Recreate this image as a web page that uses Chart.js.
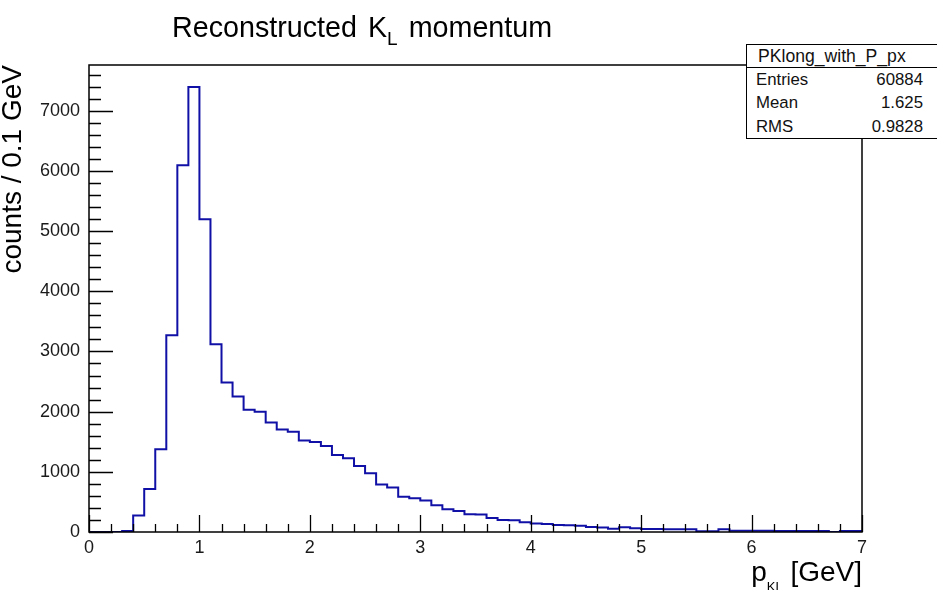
<!DOCTYPE html>
<html>
<head>
<meta charset="utf-8">
<script src="https://cdn.jsdelivr.net/npm/chart.js@4.4.1/dist/chart.umd.min.js"></script>
<style>
  html, body { margin:0; padding:0; background:#fff; }
  body { width:937px; height:590px; overflow:hidden; position:relative;
         font-family:"Liberation Sans", Arial, Helvetica, sans-serif; color:#000; }
  #wrap { position:absolute; left:0; top:0; width:937px; height:590px; }
  .txt { position:absolute; white-space:nowrap; line-height:1; }
  #title { left:172px; top:13px; font-size:28.7px; }
  #title .k { margin-left:3px; }
  #title .sub { font-size:19px; vertical-align:-8px; margin-right:3px; }
  #ytitle { left:-2px; top:365px; width:300px; text-align:right; font-size:28px;
            transform-origin:0 0; transform:rotate(-90deg); }
  #xtitle { left:662px; top:558px; width:200px; text-align:right; font-size:28px; }
  #xtitle .sub { font-size:13px; vertical-align:-10px; }
  #stats { position:absolute; left:746px; top:44px; width:200px; height:93px;
           border:1px solid #000; background:#fff; }
  #stats .hdr { position:absolute; left:0; top:0; width:100%; height:22px; border-bottom:1px solid #000; }
  .st { position:absolute; white-space:nowrap; line-height:1; font-size:16.8px; color:#111; }
  .lab { left:9px; }
  .val { right:24px; text-align:right; }
</style>
</head>
<body>
<div id="wrap"><canvas id="c" width="937" height="590"></canvas></div>

<div class="txt" id="title">Reconstructed <span class="k">K</span><span class="sub">L</span> momentum</div>
<div class="txt" id="ytitle">counts / 0.1 GeV</div>
<div class="txt" id="xtitle">p<span class="sub">KL</span> [GeV]</div>

<div id="stats">
  <div class="hdr"></div>
  <div class="st lab" id="sname" style="top:3px;font-size:17.6px;left:11px;">PKlong_with_P_px</div>
  <div class="st lab" style="top:27px;">Entries</div><div class="st val" style="top:27px;" id="vEntries"></div>
  <div class="st lab" style="top:50px;">Mean</div><div class="st val" style="top:50px;" id="vMean"></div>
  <div class="st lab" style="top:74px;">RMS</div><div class="st val" style="top:74px;" id="vRMS"></div>
</div>

<script>
// ---------------- data ----------------
const binLowEdges = [
  0.0, 0.1, 0.2, 0.3, 0.4, 0.5, 0.6, 0.7, 0.8, 0.9,
  1.0, 1.1, 1.2, 1.3, 1.4, 1.5, 1.6, 1.7, 1.8, 1.9,
  2.0, 2.1, 2.2, 2.3, 2.4, 2.5, 2.6, 2.7, 2.8, 2.9,
  3.0, 3.1, 3.2, 3.3, 3.4, 3.5, 3.6, 3.7, 3.8, 3.9,
  4.0, 4.1, 4.2, 4.3, 4.4, 4.5, 4.6, 4.7, 4.8, 4.9,
  5.0, 5.1, 5.2, 5.3, 5.4, 5.5, 5.6, 5.7, 5.8, 5.9,
  6.0, 6.1, 6.2, 6.3, 6.4, 6.5, 6.6, 6.7, 6.8, 6.9
];
const xAxisMax = 7.0;
const binCounts = [
  0, 0, 0, 15, 275, 715, 1375, 3270, 6095, 7395,
  5195, 3120, 2485, 2250, 2030, 2000, 1820, 1705, 1665, 1520,
  1495, 1430, 1280, 1225, 1095, 975, 790, 740, 585, 560,
  525, 445, 380, 348, 297, 292, 232, 200, 196, 163,
  142, 135, 118, 114, 102, 82, 75, 52, 78, 64,
  50, 48, 47, 46, 45, 12, 12, 45, 22, 20,
  20, 19, 18, 18, 17, 17, 16, 0, 15, 15
];
const xTickLabels = [0, 1, 2, 3, 4, 5, 6, 7];
const yTickLabels = [0, 1000, 2000, 3000, 4000, 5000, 6000, 7000];
const yAxisMax = 7760;
const statsLabels = ["Entries", "Mean", "RMS"];
const statsValues = ["60884", "1.625", "0.9828"];

document.getElementById('vEntries').textContent = statsValues[0];
document.getElementById('vMean').textContent = statsValues[1];
document.getElementById('vRMS').textContent = statsValues[2];

// histogram as stepped line: each point at a bin's low edge holds that bin's count
const histPoints = binLowEdges.map((e, i) => ({ x: e, y: binCounts[i] }));
histPoints.push({ x: xAxisMax, y: 0 });

// ---------------- layout (chart area: x 89..862, y 65..532) ----------------
const AREA = { left: 89, right: 862, top: 65, bottom: 532, W: 937, H: 590 };

const frameTicks = {
  id: 'frameTicks',
  afterDatasetsDraw(chart) {
    const { ctx, chartArea: a, scales: { x, y } } = chart;
    ctx.save();
    ctx.strokeStyle = '#000';
    ctx.lineWidth = 1.3;
    ctx.beginPath();
    // y ticks: major every 1000 (long), minor every 200 (short), drawn inside
    for (let v = 0; v <= yAxisMax; v += 200) {
      const py = Math.round(y.getPixelForValue(v)) + 0.5;
      const major = (v % 1000) === 0;
      ctx.moveTo(a.left, py);
      ctx.lineTo(a.left + (major ? 24 : 12), py);
    }
    // x ticks: major every 1, minor every 0.2
    for (let k = 0; k <= 35; k++) {
      const v = k * 0.2;
      const px = Math.round(x.getPixelForValue(v)) + 0.5;
      const major = (k % 5) === 0;
      ctx.moveTo(px, a.bottom);
      ctx.lineTo(px, a.bottom - (major ? 17 : 8));
    }
    ctx.stroke();
    ctx.lineWidth = 1.5;
    ctx.strokeRect(a.left, a.top, a.right - a.left, a.bottom - a.top);
    ctx.restore();
  }
};

Chart.defaults.font.family = "'Liberation Sans', Arial, Helvetica, sans-serif";

new Chart(document.getElementById('c'), {
  type: 'line',
  data: {
    datasets: [{
      label: 'PKlong_with_P_px',
      data: histPoints,
      stepped: 'before',
      borderColor: '#1010a6',
      borderWidth: 2,
      pointRadius: 0,
      fill: false,
      tension: 0
    }]
  },
  options: {
    responsive: false,
    animation: false,
    devicePixelRatio: 1,
    layout: { padding: { left: 0, top: AREA.top, right: AREA.W - AREA.right, bottom: 0 } },
    plugins: { legend: { display: false }, title: { display: false }, tooltip: { enabled: false } },
    scales: {
      x: {
        type: 'linear',
        min: 0, max: xAxisMax,
        afterBuildTicks: (s) => { s.ticks = xTickLabels.map(v => ({ value: v })); },
        afterFit: (s) => { s.height = AREA.H - AREA.bottom; },
        grid: { display: false, drawTicks: false, tickLength: 0 },
        border: { display: false },
        ticks: { color: '#1a1a1a', font: { size: 18 }, padding: 5, maxRotation: 0, autoSkip: false,
                 callback: (v) => String(v) }
      },
      y: {
        type: 'linear',
        min: 0, max: yAxisMax,
        afterBuildTicks: (s) => { s.ticks = yTickLabels.map(v => ({ value: v })); },
        afterFit: (s) => { s.width = AREA.left; },
        grid: { display: false, drawTicks: false, tickLength: 0 },
        border: { display: false },
        ticks: { color: '#1a1a1a', font: { size: 18 }, padding: 9, autoSkip: false,
                 callback: (v) => String(v) }
      }
    }
  },
  plugins: [frameTicks]
});
</script>
</body>
</html>
